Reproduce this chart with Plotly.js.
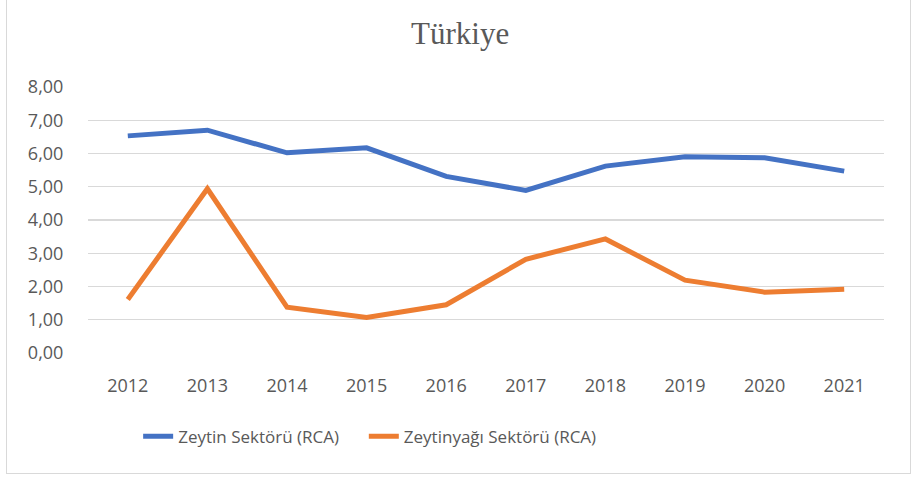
<!DOCTYPE html>
<html>
<head>
<meta charset="utf-8">
<script src="https://cdn.plot.ly/plotly-3.0.1.min.js"></script>
<style>
  html, body { margin: 0; padding: 0; background: #fff; }
  #wrap { position: relative; width: 913px; height: 478px; }
  #chart { position: absolute; left: 0; top: 0; width: 913px; height: 478px; }
  #frame { position: absolute; left: 6px; top: -2px; width: 905px; height: 476px; border: 1.5px solid #d9d9d9; pointer-events: none; box-sizing: border-box; }
</style>
</head>
<body>
<div id="wrap">
  <div id="chart"></div>
  <div id="frame"></div>
</div>
<script>
const years = ['2012','2013','2014','2015','2016','2017','2018','2019','2020','2021'];
const zeytin = [6.53, 6.70, 6.02, 6.17, 5.31, 4.89, 5.62, 5.90, 5.87, 5.47];
const zeytinyagi = [1.61, 4.94, 1.38, 1.07, 1.45, 2.82, 3.43, 2.19, 1.83, 1.92];
const seriesNames = ['Zeytin Sektörü (RCA)', 'Zeytinyağı Sektörü (RCA)'];
const yTicks = [0, 1, 2, 3, 4, 5, 6, 7, 8];
const yTickLabels = ['0,00','1,00','2,00','3,00','4,00','5,00','6,00','7,00','8,00'];

const traces = [
  { x: years, y: zeytin, name: seriesNames[0], type: 'scatter', mode: 'lines', legend: 'legend',
    line: { color: '#4472C4', width: 5, shape: 'linear' } },
  { x: years, y: zeytinyagi, name: seriesNames[1], type: 'scatter', mode: 'lines', legend: 'legend2',
    line: { color: '#ED7D31', width: 5, shape: 'linear' } }
];

const legendCommon = { orientation: 'h', xanchor: 'left', y: -0.315, yanchor: 'middle',
                       font: { size: 17, color: '#595959' }, bgcolor: 'rgba(0,0,0,0)' };

const layout = {
  width: 913, height: 478,
  margin: { l: 88, r: 29, t: 87, b: 125 },
  paper_bgcolor: '#fff', plot_bgcolor: '#fff',
  font: { family: 'Open Sans, sans-serif', color: '#595959', size: 18 },
  title: { text: 'Türkiye', font: { family: 'Liberation Serif, serif', size: 31, color: '#595959' },
           x: 0.504, xanchor: 'center', y: 0.93, yref: 'container', yanchor: 'middle' },
  xaxis: { type: 'category', range: [-0.5, 9.5], showgrid: false, zeroline: false, showline: false,
           ticks: 'outside', ticklen: 16, tickcolor: 'rgba(0,0,0,0)',
           tickfont: { size: 18, color: '#595959' }, fixedrange: true },
  yaxis: { range: [0, 8], tickvals: yTicks, ticktext: yTickLabels, showgrid: true,
           gridcolor: '#d9d9d9', gridwidth: 1.3, zeroline: false, showline: false,
           ticks: 'outside', ticklen: 20, tickcolor: 'rgba(0,0,0,0)',
           tickfont: { size: 18, color: '#595959' }, fixedrange: true },
  showlegend: true,
  legend: Object.assign({}, legendCommon, { x: 0.063 }),
  legend2: Object.assign({}, legendCommon, { x: 0.3465 })
};

Plotly.newPlot('chart', traces, layout, { displayModeBar: false, staticPlot: true });
</script>
</body>
</html>
